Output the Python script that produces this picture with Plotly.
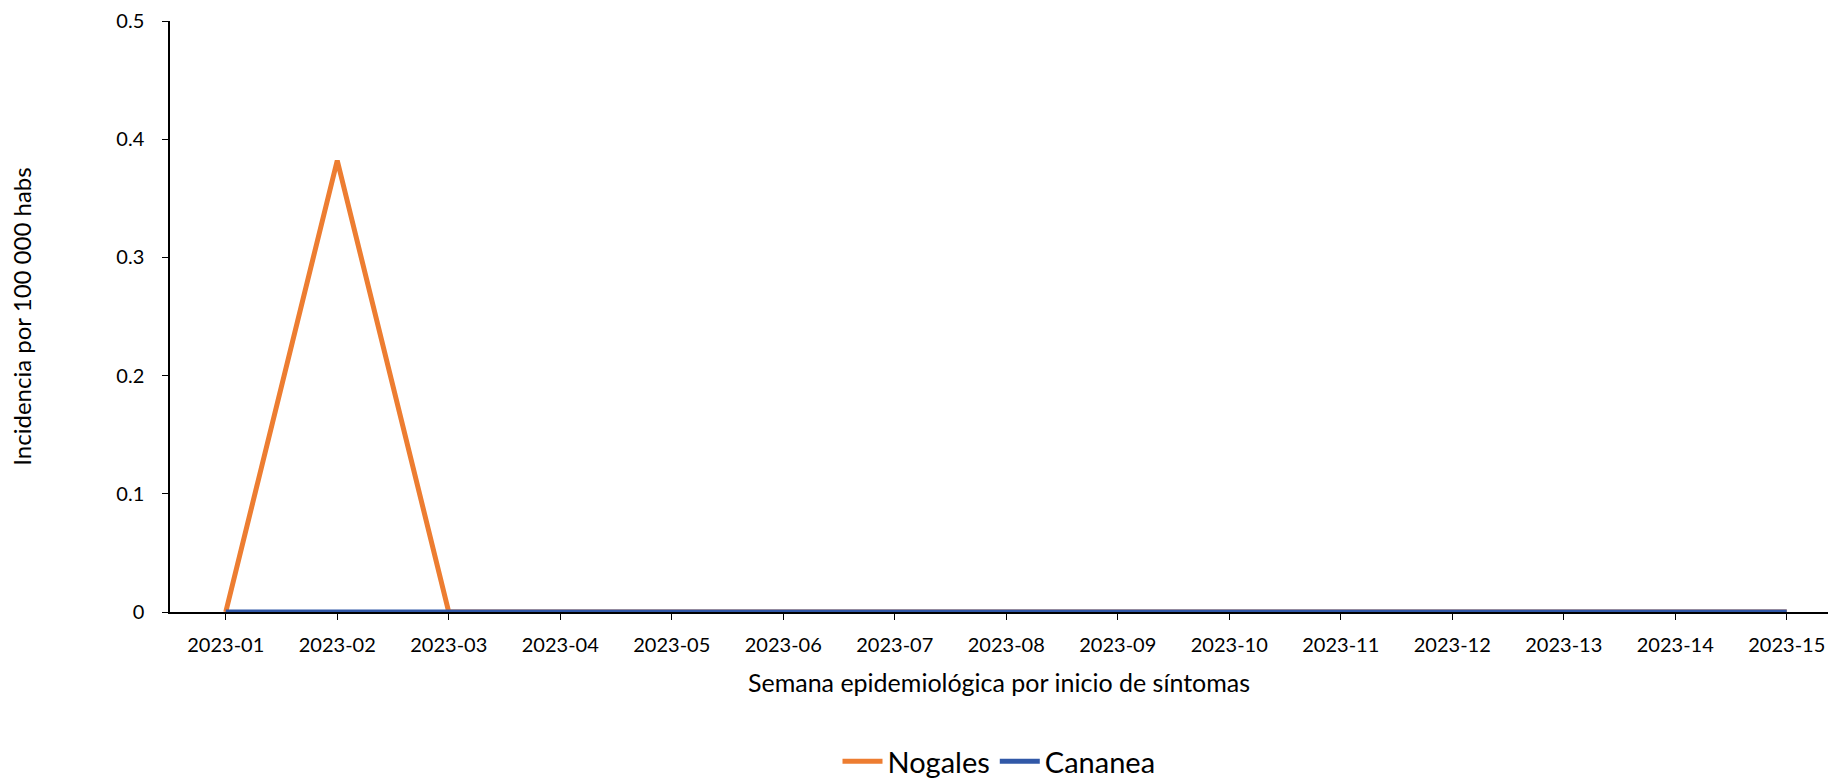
import plotly.graph_objects as go

weeks = ["2023-01", "2023-02", "2023-03", "2023-04", "2023-05", "2023-06", "2023-07",
         "2023-08", "2023-09", "2023-10", "2023-11", "2023-12", "2023-13", "2023-14", "2023-15"]
nogales = [0, 0.382, 0, 0, 0, 0, 0, 0, 0, 0, 0, 0, 0, 0, 0]
cananea = [0, 0, 0, 0, 0, 0, 0, 0, 0, 0, 0, 0, 0, 0, 0]

FONT = "Lato, 'Open Sans', sans-serif"

fig = go.Figure()
fig.add_trace(go.Scatter(x=weeks, y=nogales, mode="lines", name="Nogales",
                         line=dict(color="#ED7D31", width=5), cliponaxis=False))
fig.add_trace(go.Scatter(x=weeks, y=cananea, mode="lines", name="Cananea",
                         line=dict(color="#3158A7", width=5), cliponaxis=False))

fig.update_layout(
    width=1832, height=780,
    margin=dict(l=170, r=4, t=21, b=168, autoexpand=False),
    paper_bgcolor="white", plot_bgcolor="white",
    font=dict(family=FONT, color="#000000", size=20),
    showlegend=True,
    legend=dict(orientation="h", x=0.5, xanchor="center", y=-0.253, yanchor="middle",
                font=dict(size=29, family=FONT), traceorder="normal",
                itemwidth=40, borderwidth=0),
    xaxis=dict(
        type="category", range=[-0.5, 14.37],
        showline=True, linecolor="#000000", linewidth=1.5,
        ticks="outside", ticklen=6, tickcolor="#000000",
        showgrid=False, zeroline=False,
        tickfont=dict(size=20), ticklabelstandoff=8,
        title=dict(text="Semana epidemiológica por inicio de síntomas",
                   font=dict(size=25), standoff=20),
    ),
    yaxis=dict(
        range=[0, 0.5], dtick=0.1, tickformat="~g",
        showline=True, linecolor="#000000", linewidth=1.5,
        ticks="outside", ticklen=6, tickcolor="#000000",
        showgrid=False, zeroline=False,
        tickfont=dict(size=20), ticklabelstandoff=14,
        title=dict(text="Incidencia por 100 000 habs", font=dict(size=24), standoff=78),
    ),
)

fig.write_html(
    "out.html",
    config={"displayModeBar": False},
    post_script="document.body.style.margin='0';document.body.style.overflow='hidden';",
)
